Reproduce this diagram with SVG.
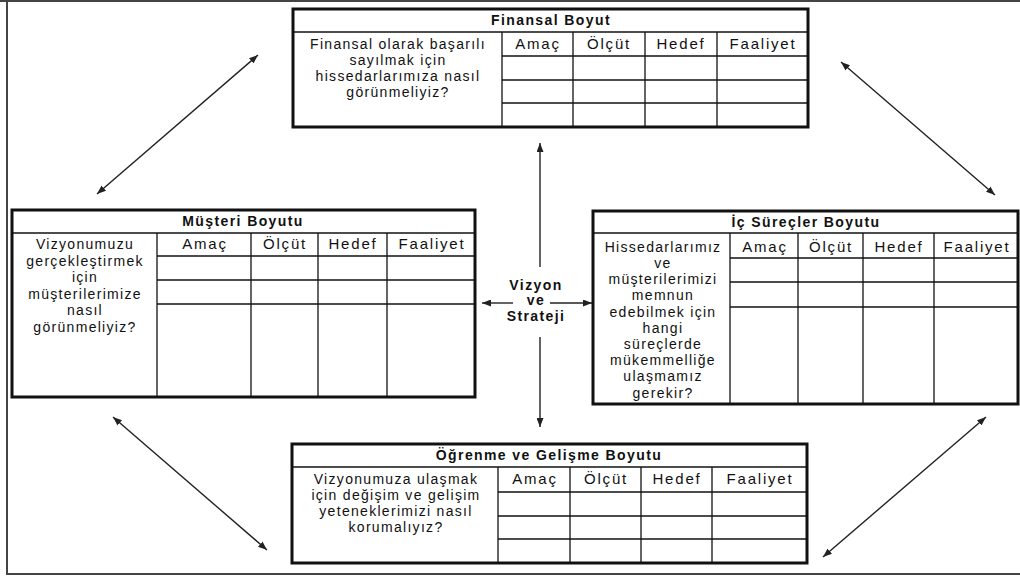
<svg xmlns="http://www.w3.org/2000/svg" width="1020" height="576" viewBox="0 0 1020 576">
<defs>
<marker id="ah" viewBox="0 0 9 7" refX="9" refY="3.5" markerWidth="9" markerHeight="7" markerUnits="userSpaceOnUse" orient="auto-start-reverse">
<path d="M0,0 L9,3.5 L0,7 z" fill="#222"/>
</marker>
</defs>
<style>
.frame{stroke:#444;stroke-width:2;fill:none}
.outer{fill:#fff;stroke:#111;stroke-width:3}
.in{stroke:#111;stroke-width:1.3;fill:none}
.title{font-family:"Liberation Sans",Arial,sans-serif;font-weight:bold;font-size:14px;letter-spacing:1.4px;text-anchor:middle;fill:#111}
.hd{font-family:"Liberation Sans",Arial,sans-serif;font-size:15px;letter-spacing:1.8px;text-anchor:middle;fill:#111}
.q{font-family:"Liberation Sans",Arial,sans-serif;font-size:14px;letter-spacing:1.3px;text-anchor:middle;fill:#111}
.ctr{font-family:"Liberation Sans",Arial,sans-serif;font-weight:bold;font-size:14px;letter-spacing:1.4px;text-anchor:middle;fill:#111}
.arr{stroke:#222;stroke-width:1.4;fill:none;marker-start:url(#ah);marker-end:url(#ah)}
.arr1{stroke:#222;stroke-width:1.4;fill:none;marker-end:url(#ah)}
</style>
<rect width="1020" height="576" fill="#fff"/>
<g id="frame">
<line class="frame" x1="0" y1="1" x2="1020" y2="1"/>
<line class="frame" x1="7" y1="1" x2="7" y2="575"/>
<line class="frame" x1="7" y1="574" x2="1020" y2="574"/>
</g>

<g id="connectors">
<line class="arr" x1="258" y1="55" x2="97" y2="194"/>
<line class="arr" x1="841" y1="62" x2="995" y2="195"/>
<line class="arr" x1="113" y1="417" x2="267" y2="550"/>
<line class="arr" x1="986" y1="417" x2="823" y2="557"/>
<line class="arr1" x1="540" y1="267" x2="540" y2="143"/>
<line class="arr1" x1="540" y1="337" x2="540" y2="427"/>
<line class="arr1" x1="513" y1="303" x2="482" y2="303"/>
<line class="arr1" x1="550" y1="303" x2="592" y2="303"/>
</g>

<g id="vizyon">
<text class="ctr" x="536" y="290">Vizyon</text>
<text class="ctr" x="536" y="305">ve</text>
<text class="ctr" x="536" y="321">Strateji</text>
</g>

<g id="finansal">
<rect class="outer" x="293" y="9" width="515" height="118"/>
<line class="in" x1="293" y1="32" x2="808" y2="32"/>
<line class="in" x1="502" y1="32" x2="502" y2="127"/>
<line class="in" x1="573" y1="32" x2="573" y2="127"/>
<line class="in" x1="645" y1="32" x2="645" y2="127"/>
<line class="in" x1="717" y1="32" x2="717" y2="127"/>
<line class="in" x1="502" y1="56" x2="808" y2="56"/>
<line class="in" x1="502" y1="80" x2="808" y2="80"/>
<line class="in" x1="502" y1="103" x2="808" y2="103"/>
<text class="title" x="551" y="25">Finansal Boyut</text>
<text class="hd" x="538" y="49">Amaç</text>
<text class="hd" x="609" y="49">Ölçüt</text>
<text class="hd" x="681" y="49">Hedef</text>
<text class="hd" x="763" y="49">Faaliyet</text>
<text class="q" x="398" y="49">Finansal olarak başarılı</text>
<text class="q" x="398" y="65">sayılmak için</text>
<text class="q" x="398" y="81">hissedarlarımıza nasıl</text>
<text class="q" x="398" y="97">görünmeliyiz?</text>
</g>

<g id="musteri">
<rect class="outer" x="12" y="210" width="463" height="187"/>
<line class="in" x1="12" y1="233" x2="475" y2="233"/>
<line class="in" x1="157" y1="233" x2="157" y2="397"/>
<line class="in" x1="251" y1="233" x2="251" y2="397"/>
<line class="in" x1="318" y1="233" x2="318" y2="397"/>
<line class="in" x1="387" y1="233" x2="387" y2="397"/>
<line class="in" x1="157" y1="256" x2="475" y2="256"/>
<line class="in" x1="157" y1="280" x2="475" y2="280"/>
<line class="in" x1="157" y1="304" x2="475" y2="304"/>
<text class="title" x="243" y="226">Müşteri Boyutu</text>
<text class="hd" x="205" y="249">Amaç</text>
<text class="hd" x="285" y="249">Ölçüt</text>
<text class="hd" x="353" y="249">Hedef</text>
<text class="hd" x="432" y="249">Faaliyet</text>
<text class="q" x="85" y="249">Vizyonumuzu</text>
<text class="q" x="85" y="266">gerçekleştirmek</text>
<text class="q" x="85" y="282">için</text>
<text class="q" x="85" y="299">müşterilerimize</text>
<text class="q" x="85" y="315">nasıl</text>
<text class="q" x="85" y="332">görünmeliyiz?</text>
</g>

<g id="icsurecler">
<rect class="outer" x="593" y="211" width="425" height="193"/>
<line class="in" x1="593" y1="233" x2="1018" y2="233"/>
<line class="in" x1="730" y1="233" x2="730" y2="404"/>
<line class="in" x1="798" y1="233" x2="798" y2="404"/>
<line class="in" x1="863" y1="233" x2="863" y2="404"/>
<line class="in" x1="934" y1="233" x2="934" y2="404"/>
<line class="in" x1="730" y1="258" x2="1018" y2="258"/>
<line class="in" x1="730" y1="282" x2="1018" y2="282"/>
<line class="in" x1="730" y1="307" x2="1018" y2="307"/>
<text class="title" x="806" y="227">İç Süreçler Boyutu</text>
<text class="hd" x="765" y="252">Amaç</text>
<text class="hd" x="831" y="252">Ölçüt</text>
<text class="hd" x="899" y="252">Hedef</text>
<text class="hd" x="977" y="252">Faaliyet</text>
<text class="q" x="663" y="252">Hissedarlarımız</text>
<text class="q" x="663" y="268">ve</text>
<text class="q" x="663" y="284">müşterilerimizi</text>
<text class="q" x="663" y="300">memnun</text>
<text class="q" x="663" y="317">edebilmek için</text>
<text class="q" x="663" y="333">hangi</text>
<text class="q" x="663" y="349">süreçlerde</text>
<text class="q" x="663" y="365">mükemmelliğe</text>
<text class="q" x="663" y="381">ulaşmamız</text>
<text class="q" x="663" y="398">gerekir?</text>
</g>

<g id="ogrenme">
<rect class="outer" x="292" y="444" width="515" height="119"/>
<line class="in" x1="292" y1="467" x2="807" y2="467"/>
<line class="in" x1="498" y1="467" x2="498" y2="563"/>
<line class="in" x1="570" y1="467" x2="570" y2="563"/>
<line class="in" x1="641" y1="467" x2="641" y2="563"/>
<line class="in" x1="712" y1="467" x2="712" y2="563"/>
<line class="in" x1="498" y1="492" x2="807" y2="492"/>
<line class="in" x1="498" y1="516" x2="807" y2="516"/>
<line class="in" x1="498" y1="539" x2="807" y2="539"/>
<text class="title" x="549" y="460">Öğrenme ve Gelişme Boyutu</text>
<text class="hd" x="535" y="484">Amaç</text>
<text class="hd" x="606" y="484">Ölçüt</text>
<text class="hd" x="677" y="484">Hedef</text>
<text class="hd" x="760" y="484">Faaliyet</text>
<text class="q" x="396" y="484">Vizyonumuza ulaşmak</text>
<text class="q" x="396" y="500">için değişim ve gelişim</text>
<text class="q" x="396" y="516">yeteneklerimizi nasıl</text>
<text class="q" x="396" y="532">korumalıyız?</text>
</g>
</svg>
